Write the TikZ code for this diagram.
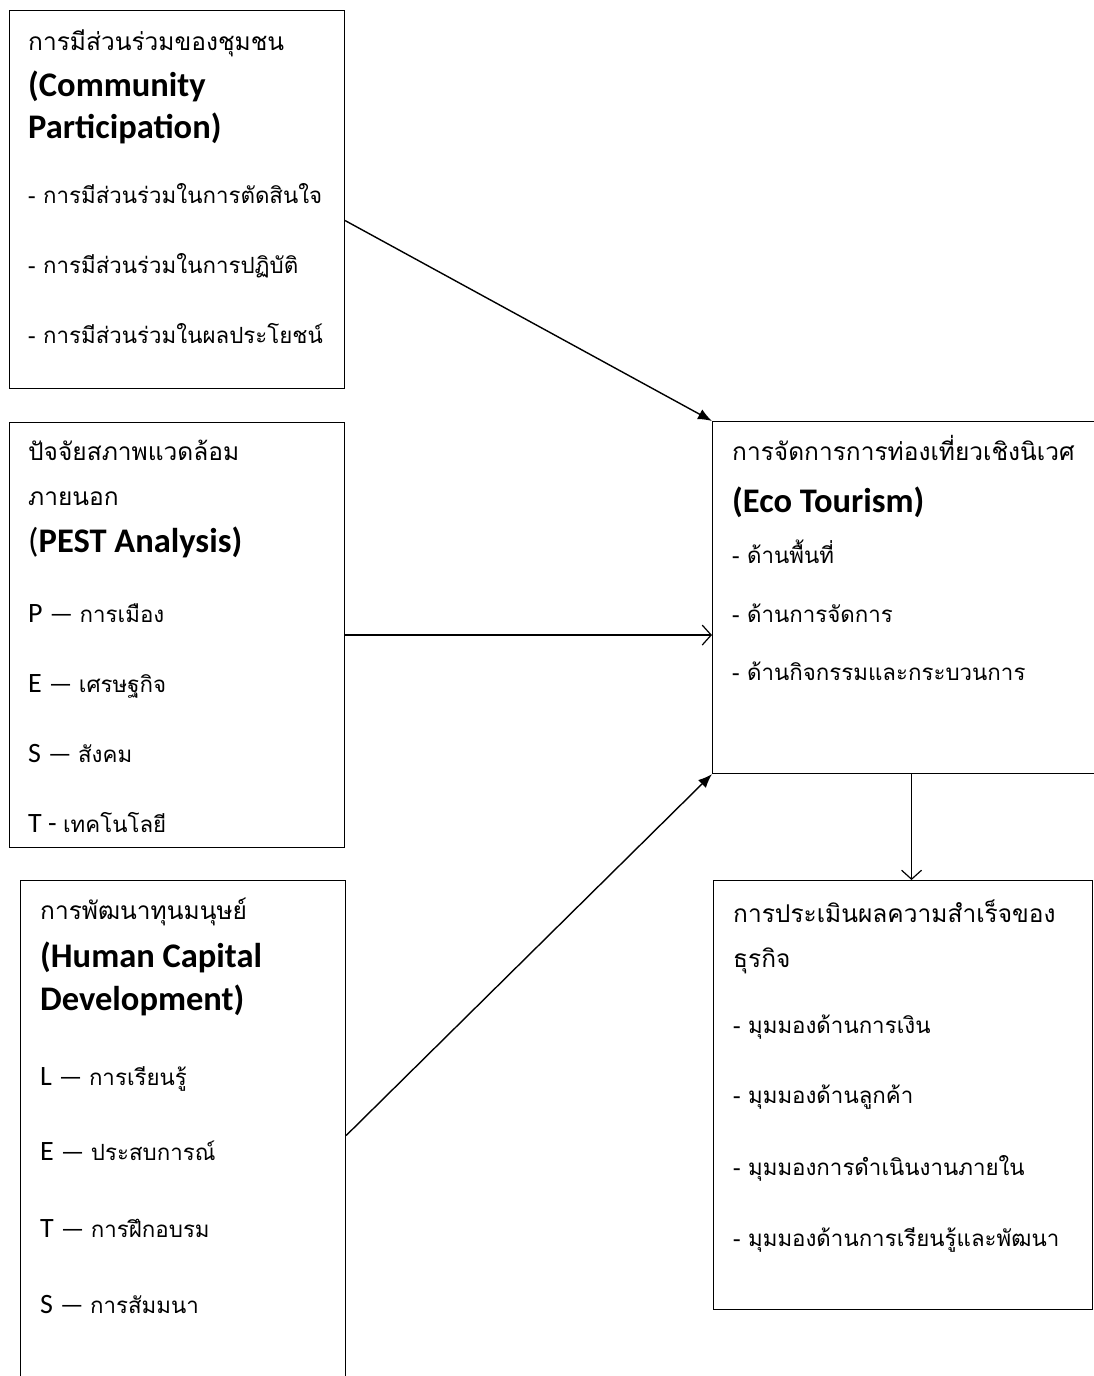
\documentclass[tikz,border=0pt]{standalone}
\usepackage{fontspec}
\setmainfont{Carlito}
\newfontfamily\thaif[Script=Thai]{Loma}
\newcommand{\thitem}{\thaif\fontsize{22.3}{26}\selectfont}
\newcommand{\shortdash}{\hspace{7pt}{\fontsize{26}{26}\selectfont —}\hspace{6.5pt}}
\usetikzlibrary{arrows.meta}
\begin{document}
\begin{tikzpicture}[x=1pt,y=-1pt,
  box/.style={draw, line width=1.1pt, inner sep=0pt, anchor=north west},
  thtitle/.style={inner sep=0pt, anchor=base west, font=\thaif\fontsize{24.5}{28}\selectfont},
  th/.style={inner sep=0pt, anchor=base west, font=\thitem},
  en/.style={inner sep=0pt, anchor=base west, font=\bfseries\fontsize{34.5}{40}\selectfont},
  lt/.style={inner sep=0pt, anchor=base west, font=\fontsize{28}{32}\selectfont},
  filledarrow/.style={line width=1.4pt, -{Latex[length=14pt,width=11pt]}},
  openarrow/.style={line width=1.2pt, -{Straight Barb[length=9pt,width=20pt,line width=1.2pt]}}
]
\useasboundingbox (0,0) rectangle (1094,1376);
% boxes
\node[box, minimum width=335pt, minimum height=378pt] (b1) at (9,10) {};
\node[box, minimum width=335pt, minimum height=425pt] (b2) at (9,422) {};
\node[box, minimum width=325pt, minimum height=510pt] (b3) at (20,880) {};
\node[box, minimum width=398pt, minimum height=352pt] (eco) at (712,421) {};
\node[box, minimum width=379pt, minimum height=429pt] (ev) at (713,880) {};
% box 1 text
\node[thtitle] (t1a) at (28,50) {การมีส่วนร่วมของชุมชน};
\node[en] (t1b) at (28,96) {(Community};
\node[en] (t1c) at (28,138) {Participation)};
\node[th] (t1d) at (28,203) {- การมีส่วนร่วมในการตัดสินใจ};
\node[th] (t1e) at (28,273) {- การมีส่วนร่วมในการปฏิบัติ};
\node[th] (t1f) at (28,343) {- การมีส่วนร่วมในผลประโยชน์};
% box 2 text
\node[thtitle] (t2a) at (28,460) {ปัจจัยสภาพแวดล้อม};
\node[thtitle] (t2b) at (28,505) {ภายนอก};
\node[en] (t2c) at (28,552) {{\mdseries(}PEST Analysis)};
\node[lt] (t2d) at (28,622) {P\shortdash{\thitem การเมือง}};
\node[lt] (t2e) at (28,692) {E\shortdash{\thitem เศรษฐกิจ}};
\node[lt] (t2f) at (28,762) {S\shortdash{\thitem สังคม}};
\node[lt] (t2g) at (28,832) {T - {\thitem เทคโนโลยี}};
% box 3 text
\node[thtitle] (t3a) at (40,919) {การพัฒนาทุนมนุษย์};
\node[en] (t3b) at (40,967) {(Human Capital};
\node[en] (t3c) at (40,1010) {Development)};
\node[lt] (t3d) at (40,1085) {L\shortdash{\thitem การเรียนรู้}};
\node[lt] (t3e) at (40,1160) {E\shortdash{\thitem ประสบการณ์}};
\node[lt] (t3f) at (40,1237) {T\shortdash{\thitem การฝึกอบรม}};
\node[lt] (t3g) at (40,1313) {S\shortdash{\thitem การสัมมนา}};
% eco box text
\node[thtitle] (t4a) at (732,460) {การจัดการการท่องเที่ยวเชิงนิเวศ};
\node[en] (t4b) at (732,512) {(Eco Tourism)};
\node[th] (t4c) at (732,563) {- ด้านพื้นที่};
\node[th] (t4d) at (732,622) {- ด้านการจัดการ};
\node[th] (t4e) at (732,680) {- ด้านกิจกรรมและกระบวนการ};
% evaluation box text
\node[thtitle] (t5a) at (733,922) {การประเมินผลความสำเร็จของ};
\node[thtitle] (t5b) at (733,967) {ธุรกิจ};
\node[th] (t5c) at (733,1033) {- มุมมองด้านการเงิน};
\node[th] (t5d) at (733,1103) {- มุมมองด้านลูกค้า};
\node[th] (t5e) at (733,1175) {- มุมมองการดำเนินงานภายใน};
\node[th] (t5f) at (733,1246) {- มุมมองด้านการเรียนรู้และพัฒนา};
% connectors
\draw[filledarrow] ([yshift=-21pt]b1.east) -- (eco.north west);
\draw[openarrow] (b2.east) -- (eco.west |- b2.east);
\draw[filledarrow] (b3.east) -- (eco.south west);
\draw[openarrow] (eco.south) -- (eco.south |- ev.north);
\end{tikzpicture}
\end{document}
